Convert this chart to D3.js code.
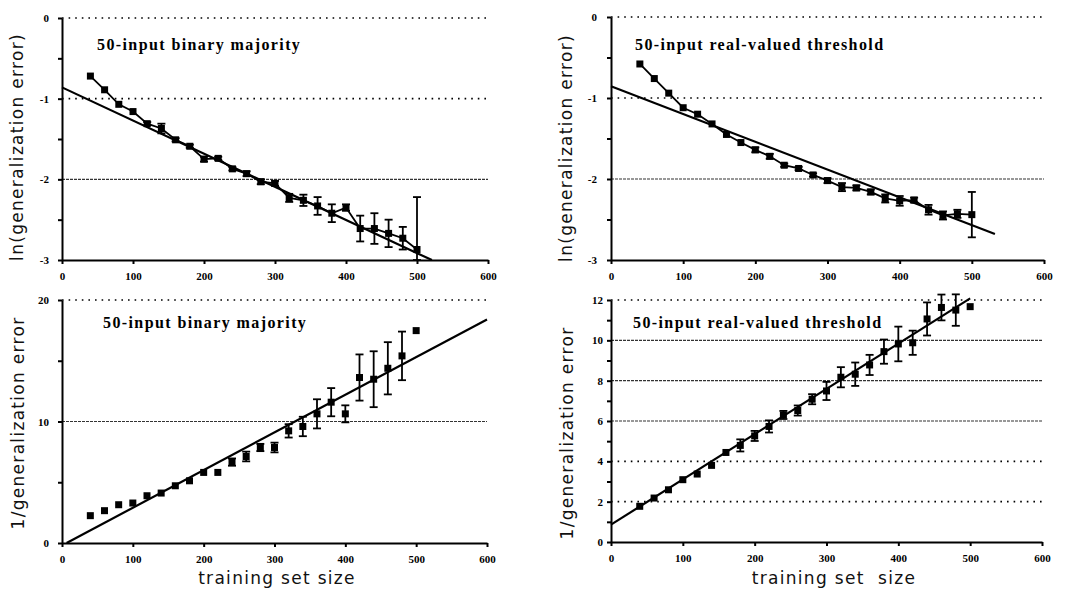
<!DOCTYPE html>
<meta charset="utf-8">
<style>
body { margin: 0; background: #fff; }
.tick text { font-family: "Liberation Serif", serif; font-weight: bold; font-size: 11px; fill: #000; }
.tick line, .domain { stroke: #000; stroke-width: 2px; }
.title { font-family: "Liberation Serif", serif; font-weight: bold; font-size: 16px; letter-spacing: 1.4px; }
.axis-title { font-family: "DejaVu Sans", sans-serif; font-size: 17px; letter-spacing: 1.3px; fill: #111; }
</style>
<svg width="1070" height="590"></svg>
<script src="https://d3js.org/d3.v7.min.js"></script>
<script>

var svg = d3.select("svg");

// training set sizes (x values of every point)
var sizes = [40, 60, 80, 100, 120, 140, 160, 180, 200, 220, 240, 260,
             280, 300, 320, 340, 360, 380, 400, 420, 440, 460, 480, 500];
var xTicks = [0, 100, 200, 300, 400, 500, 600];

// ln(generalization error), binary majority
var lnMajority = [-0.72, -0.89, -1.07, -1.16, -1.31, -1.37, -1.51, -1.59, -1.75, -1.74, -1.87, -1.93,
                  -2.03, -2.05, -2.23, -2.26, -2.33, -2.42, -2.35, -2.61, -2.61, -2.67, -2.73, -2.87];
var lnMajorityUp = [0, 0, 0, 0, 0.02, 0.06, 0.02, 0.02, 0.03, 0.02, 0.02, 0.03,
                    0.03, 0.03, 0.05, 0.07, 0.11, 0.11, 0.04, 0.16, 0.19, 0.17, 0.14, 0.65];
var lnMajorityDown = [0, 0, 0, 0, 0.02, 0.06, 0.02, 0.02, 0.03, 0.02, 0.02, 0.03,
                      0.03, 0.03, 0.05, 0.07, 0.11, 0.11, 0.04, 0.16, 0.19, 0.17, 0.14, 0.13];
var lnMajorityFit = [-0.86, -0.00411, 0, 521];   // intercept, slope, x from, x to

// ln(generalization error), real-valued threshold
var lnThreshold = [-0.58, -0.76, -0.94, -1.12, -1.20, -1.32, -1.45, -1.55, -1.64, -1.72, -1.83, -1.87,
                   -1.95, -2.02, -2.10, -2.11, -2.16, -2.24, -2.27, -2.26, -2.38, -2.45, -2.43, -2.44];
var lnThresholdErr = [0, 0, 0, 0, 0, 0, 0, 0, 0.03, 0.03, 0.02, 0.02,
                      0.02, 0.03, 0.05, 0.03, 0.03, 0.05, 0.06, 0.03, 0.06, 0.05, 0.05, 0.28];
var lnThresholdFit = [-0.855, -0.00343, 0, 532];

// 1/generalization error, binary majority
var invMajority = [2.25, 2.66, 3.15, 3.29, 3.89, 4.11, 4.71, 5.12, 5.81, 5.81, 6.66, 7.12,
                   7.86, 7.86, 9.23, 9.59, 10.63, 11.59, 10.63, 13.62, 13.48, 14.38, 15.40, 17.48];
var invMajorityErr = [0, 0, 0, 0, 0, 0, 0, 0, 0, 0, 0.3, 0.4,
                      0.3, 0.4, 0.55, 0.8, 1.2, 1.16, 0.7, 1.9, 2.3, 2.15, 2.0, 0];
var invMajorityFit = [-0.2, 0.031, 6.5, 600];

// 1/generalization error, real-valued threshold
var invThreshold = [1.77, 2.18, 2.59, 3.09, 3.37, 3.80, 4.44, 4.79, 5.26, 5.73, 6.30, 6.52,
                    7.08, 7.49, 8.17, 8.32, 8.78, 9.44, 9.82, 9.88, 11.06, 11.63, 11.50, 11.67];
var invThresholdErr = [0, 0, 0, 0, 0, 0, 0, 0.3, 0.25, 0.3, 0.2, 0.25,
                       0.25, 0.45, 0.5, 0.58, 0.5, 0.6, 0.86, 0.6, 0.82, 0.64, 0.78, 0];
var invThresholdFit = [0.86, 0.02244, 0, 500];

var lnTicks = [0, -0.5, -1, -1.5, -2, -2.5, -3];
var majorityTicks = [0, 5, 10, 15, 20];
var thresholdTicks = [0, 1, 2, 3, 4, 5, 6, 7, 8, 9, 10, 11, 12];

drawPanel({
  box: [62, 488, 18, 260], yDomain: [-3, 0], yTicks: lnTicks, labelEvery: 1, labelGap: 13,
  values: lnMajority, up: lnMajorityUp, down: lnMajorityDown, fit: lnMajorityFit, connect: true,
  dotted: [0, -1], wavy: [-2],
  title: "50-input binary majority", titleAt: [97, 50],
  yLabel: "ln(generalization error)", yLabelAt: [17, 147]
});

drawPanel({
  box: [611, 1044, 17, 260], yDomain: [-3, 0], yTicks: lnTicks, labelEvery: 1, labelGap: 14,
  values: lnThreshold, up: lnThresholdErr, down: lnThresholdErr, fit: lnThresholdFit, connect: true,
  dotted: [0, -1], wavy: [-2],
  title: "50-input real-valued threshold", titleAt: [635, 50],
  yLabel: "ln(generalization error)", yLabelAt: [566, 148]
});

drawPanel({
  box: [62, 487, 300, 543], yDomain: [0, 20], yTicks: majorityTicks, labelEvery: 10, labelGap: 13,
  values: invMajority, up: invMajorityErr, down: invMajorityErr, fit: invMajorityFit, connect: false,
  dotted: [20], wavy: [10],
  title: "50-input binary majority", titleAt: [103, 328],
  yLabel: "1/generalization error", yLabelAt: [18, 423],
  xLabel: "training set size", xLabelAt: [277, 584]
});

drawPanel({
  box: [611, 1042, 300, 542], yDomain: [0, 12], yTicks: thresholdTicks, labelEvery: 2, labelGap: 8,
  values: invThreshold, up: invThresholdErr, down: invThresholdErr, fit: invThresholdFit, connect: false,
  dotted: [12, 4, 2], wavy: [10, 8, 6],
  title: "50-input real-valued threshold", titleAt: [633, 328],
  yLabel: "1/generalization error", yLabelAt: [567, 433],
  xLabel: "training set\u00a0 size", xLabelAt: [834, 584]
});

function drawPanel(p) {
  var g = svg.append("g");
  var x = d3.scaleLinear().domain([0, 600]).range([p.box[0], p.box[1]]);
  var y = d3.scaleLinear().domain(p.yDomain).range([p.box[3], p.box[2]]);

  // horizontal reference lines
  g.selectAll(".dot-grid").data(p.dotted).enter().append("line")
      .attr("x1", x(0)).attr("x2", x(600))
      .attr("y1", function(d) { return y(d); })
      .attr("y2", function(d) { return y(d); })
      .attr("stroke", "#000").attr("stroke-width", 1.6)
      .attr("stroke-dasharray", "1.6,5");
  g.selectAll(".wavy-grid").data(p.wavy).enter().append("line")
      .attr("x1", x(0)).attr("x2", x(600))
      .attr("y1", function(d) { return y(d); })
      .attr("y2", function(d) { return y(d); })
      .attr("stroke", "#333").attr("stroke-width", 1.1)
      .attr("stroke-dasharray", "3,1");

  // axes
  g.append("g")
      .attr("transform", "translate(0," + p.box[3] + ")")
      .call(d3.axisBottom(x).tickValues(xTicks).tickSize(4).tickSizeOuter(0).tickPadding(8)
        .tickFormat(function(d) { return String(d); }));
  g.append("g")
      .attr("transform", "translate(" + p.box[0] + ",0)")
      .call(d3.axisLeft(y).tickValues(p.yTicks).tickSize(4).tickSizeOuter(0).tickPadding(p.labelGap - 4)
        .tickFormat(function(d) { return d % p.labelEvery === 0 ? String(d) : ""; }));

  // fitted line
  var fx0 = p.fit[2], fx1 = p.fit[3];
  g.append("line")
      .attr("x1", x(fx0)).attr("y1", y(p.fit[0] + p.fit[1] * fx0))
      .attr("x2", x(fx1)).attr("y2", y(p.fit[0] + p.fit[1] * fx1))
      .attr("stroke", "#000").attr("stroke-width", 2.2);

  var pts = sizes.map(function(s, i) {
    return { x: s, y: p.values[i], up: p.up[i], down: p.down[i] };
  });

  if (p.connect) {
    g.append("path")
        .datum(pts)
        .attr("fill", "none").attr("stroke", "#000").attr("stroke-width", 1.8)
        .attr("d", d3.line().x(function(d) { return x(d.x); }).y(function(d) { return y(d.y); }));
  }

  // error bars
  var bars = g.selectAll(".err").data(pts.filter(function(d) { return d.up > 0 || d.down > 0; }))
      .enter().append("g").attr("stroke", "#000").attr("stroke-width", 1.8);
  bars.append("line")
      .attr("x1", function(d) { return x(d.x); }).attr("x2", function(d) { return x(d.x); })
      .attr("y1", function(d) { return y(d.y + d.up); })
      .attr("y2", function(d) { return y(d.y - d.down); });
  bars.append("line")
      .attr("x1", function(d) { return x(d.x) - 4; }).attr("x2", function(d) { return x(d.x) + 4; })
      .attr("y1", function(d) { return y(d.y + d.up); })
      .attr("y2", function(d) { return y(d.y + d.up); });
  bars.append("line")
      .attr("x1", function(d) { return x(d.x) - 4; }).attr("x2", function(d) { return x(d.x) + 4; })
      .attr("y1", function(d) { return y(d.y - d.down); })
      .attr("y2", function(d) { return y(d.y - d.down); });

  // markers
  g.selectAll(".pt").data(pts).enter().append("rect")
      .attr("x", function(d) { return x(d.x) - 3.5; })
      .attr("y", function(d) { return y(d.y) - 3.5; })
      .attr("width", 7).attr("height", 7)
      .attr("fill", "#000");

  g.append("text").attr("class", "title")
      .attr("x", p.titleAt[0]).attr("y", p.titleAt[1])
      .text(p.title);

  g.append("text").attr("class", "axis-title")
      .attr("transform", "translate(" + p.yLabelAt[0] + "," + p.yLabelAt[1] + ") rotate(-90)")
      .attr("text-anchor", "middle").attr("dominant-baseline", "central")
      .text(p.yLabel);

  if (p.xLabel) {
    g.append("text").attr("class", "axis-title")
        .attr("x", p.xLabelAt[0]).attr("y", p.xLabelAt[1])
        .attr("text-anchor", "middle")
        .text(p.xLabel);
  }
}

</script>
